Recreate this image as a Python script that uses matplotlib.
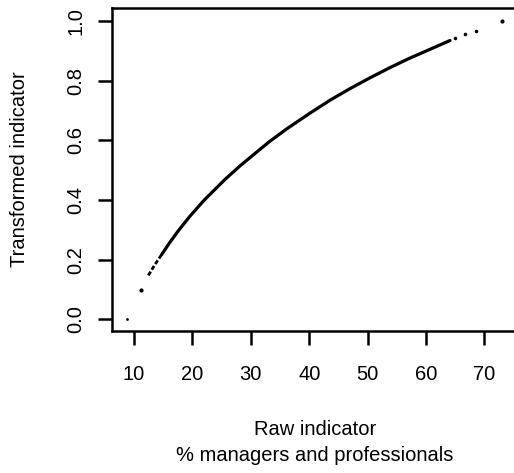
import matplotlib.pyplot as plt

plt.rcParams['font.family'] = ['Liberation Sans', 'DejaVu Sans']

# dense part of the scatter (points overlap into a solid curve)
curve_x = [14.74, 16.0, 17.6, 19.6, 22.0, 25.6, 28.15, 31.6, 33.3, 36.15, 40.0, 43.56, 47.0, 50.4, 53.8, 57.0, 60.5, 64.1]
curve_y = [0.217, 0.254, 0.297, 0.346, 0.399, 0.469, 0.514, 0.570, 0.597, 0.638, 0.689, 0.734, 0.773, 0.809, 0.843, 0.873, 0.903, 0.934]

# thinner stretch at the low end
low_x = [12.45, 13.6, 14.74]
low_y = [0.147, 0.184, 0.217]

# sparse points near the top
tail_x = [64.97, 66.7, 68.5]
tail_y = [0.942, 0.956, 0.967]

# isolated points
single_x = [8.8, 11.15, 72.96]
single_y = [0.0, 0.097, 1.0]

xticks = [10, 20, 30, 40, 50, 60, 70]
yticks = [0.0, 0.2, 0.4, 0.6, 0.8, 1.0]

fig = plt.figure(figsize=(5.14, 4.73), dpi=100)
ax = fig.add_axes([0.2179, 0.3002, 0.790, 0.6829])

ax.plot(curve_x, curve_y, color='black', lw=2.3, solid_capstyle='round', solid_joinstyle='round')
ax.plot(low_x, low_y, color='black', lw=2.0, ls=(0, (1.6, 0.8)))
ax.plot(tail_x, tail_y, 'o', color='black', ms=2.6, mew=0)
ax.plot(single_x[:1], single_y[:1], 'o', color='black', ms=2.0, mew=0)
ax.plot(single_x[1:], single_y[1:], 'o', color='black', ms=3.0, mew=0)

ax.set_xlim(6.23, 75.75)
ax.set_ylim(-0.0392, 1.0429)
ax.set_xticks(xticks)
ax.set_yticks(yticks)
ax.set_xticklabels([str(t) for t in xticks])
ax.set_yticklabels(['%.1f' % t for t in yticks], rotation=90, va='center')

for s in ax.spines.values():
    s.set_linewidth(1.8)
    s.set_color('black')
ax.tick_params(direction='out', length=10, width=1.8, labelsize=14.5, colors='black')
ax.tick_params(axis='x', pad=14.5)
ax.tick_params(axis='y', pad=9)

ax.set_xlabel('Raw indicator\n% managers and professionals', fontsize=14.5, labelpad=26, linespacing=1.45)
ax.set_ylabel('Transformed indicator', fontsize=14.5, labelpad=27)

fig.savefig('out.png', dpi=100)
